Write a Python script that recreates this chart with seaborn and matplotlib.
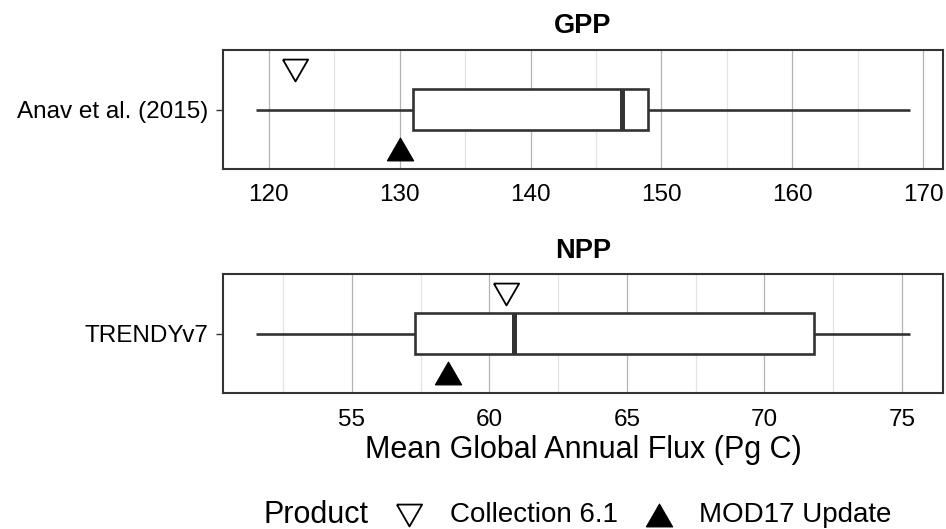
import pandas as pd
import numpy as np
import matplotlib
matplotlib.use("Agg")
import matplotlib.pyplot as plt
from matplotlib.markers import MarkerStyle
import seaborn as sns

# five-number summaries (min, Q1, median, Q3, max)
gpp_ensemble = [119.0, 131.0, 147.0, 149.0, 169.0]
npp_ensemble = [51.5, 57.3, 60.9, 71.8, 75.3]

gpp_group = "Anav et al. (2015)"
npp_group = "TRENDYv7"

products = ["Collection 6.1", "MOD17 Update"]
gpp_products = [122.0, 130.0]
npp_products = [60.6, 58.5]

gpp_ticks = [120, 130, 140, 150, 160, 170]
npp_ticks = [55, 60, 65, 70, 75]

sns.set_theme(style="white")
plt.rcParams['font.family'] = ['Liberation Sans', 'DejaVu Sans']
plt.rcParams['text.color'] = 'black'
plt.rcParams['axes.labelcolor'] = 'black'

# equilateral-ish triangles like ggplot shapes 6 and 17
tri_down = MarkerStyle([(-1, 0.866), (1, 0.866), (0, -0.866), (-1, 0.866)])
tri_up = MarkerStyle([(-1, -0.866), (1, -0.866), (0, 0.866), (-1, -0.866)])

fig = plt.figure(figsize=(9.46, 5.29), dpi=100)
ax1 = fig.add_axes([0.2357, 0.6805, 0.761, 0.225])
ax2 = fig.add_axes([0.2357, 0.2565, 0.761, 0.225])

dark = "#333333"


def panel(ax, vals, group, prod_vals, title, ticks, minor_step):
    df = pd.DataFrame({"flux": vals, "group": group})
    sns.boxplot(data=df, x="flux", y="group", ax=ax, width=0.413, whis=1.5,
                color="white", linecolor=dark, linewidth=1.9,
                medianprops=dict(color=dark, linewidth=3.6),
                showcaps=False, fliersize=0)
    # markers offset above / below the box
    sns.scatterplot(x=[prod_vals[0]], y=[-0.4], ax=ax, marker=tri_down, s=330,
                    color="white", edgecolor="black", linewidth=1.3,
                    label=products[0], legend=False, zorder=5)
    sns.scatterplot(x=[prod_vals[1]], y=[0.4], ax=ax, marker=tri_up, s=360,
                    color="black", edgecolor="black", linewidth=0.8,
                    label=products[1], legend=False, zorder=5)
    lo, hi = min(vals), max(vals)
    pad = (hi - lo) * 0.05
    ax.set_xlim(lo - pad, hi + pad)
    ax.set_ylim(0.6, -0.6)
    ax.set_xticks(ticks)
    minors = np.arange(ticks[0] - minor_step, ticks[-1] + minor_step * 2, minor_step * 2)
    ax.set_xticks([m for m in minors if lo - pad < m < hi + pad], minor=True)
    ax.grid(axis="x", which="major", color="#b3b3b3", linewidth=0.9)
    ax.grid(axis="x", which="minor", color="#e3e3e3", linewidth=0.9)
    ax.grid(axis="y", visible=False)
    ax.set_axisbelow(True)
    for s in ax.spines.values():
        s.set_color(dark)
        s.set_linewidth(1.5)
    ax.tick_params(axis="x", length=0, pad=11, labelsize=17.5, labelcolor="black")
    ax.tick_params(axis="x", which="minor", length=0)
    ax.tick_params(axis="y", length=5, width=1, color=dark, pad=5.5,
                   labelsize=17.5, labelcolor="black", left=True)
    ax.set_ylabel("")
    ax.set_xlabel("")
    ax.set_title(title, fontsize=19.5, fontweight="bold", pad=12)


panel(ax1, gpp_ensemble, gpp_group, gpp_products, "GPP", gpp_ticks, 5)
panel(ax2, npp_ensemble, npp_group, npp_products, "NPP", npp_ticks, 2.5)
ax2.set_xlabel("Mean Global Annual Flux (Pg C)", fontsize=22, labelpad=3)

handles, labels = ax2.get_legend_handles_labels()
fig.text(263 / 946, 0.0265, "Product", fontsize=22, va="center", ha="left")
fig.legend(handles, labels, loc="center left", bbox_to_anchor=(395.6 / 946, 0.0265),
           ncol=2, frameon=False, fontsize=20, handlelength=1.0, handletextpad=0.96,
           columnspacing=0.96, borderpad=0, borderaxespad=0)

fig.savefig("out.png", dpi=100)
